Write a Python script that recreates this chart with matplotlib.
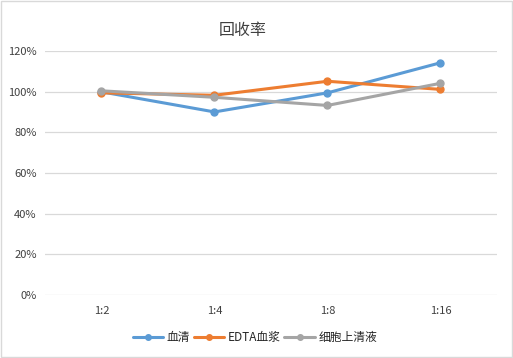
import matplotlib
matplotlib.use("Agg")
import matplotlib.pyplot as plt
from matplotlib.patches import Rectangle
from matplotlib.ticker import PercentFormatter

plt.rcParams['font.family'] = ['Noto Sans CJK SC', 'DejaVu Sans']

# data
categories = ["1:2", "1:4", "1:8", "1:16"]
serum = [100.0, 90.1, 99.5, 114.3]
edta_plasma = [99.5, 98.3, 105.2, 101.2]
cell_supernatant = [100.5, 97.3, 93.3, 104.2]
series_names = ["血清", "EDTA血浆", "细胞上清液"]
colors = ["#5B9BD5", "#ED7D31", "#A5A5A5"]

fig = plt.figure(figsize=(5.13, 3.58), dpi=100)
ax = fig.add_axes([0.0877, 0.176, 0.881, 0.681])

x = range(len(categories))
for vals, name, c in zip([serum, edta_plasma, cell_supernatant], series_names, colors):
    ax.plot(x, vals, color=c, lw=2.2, marker="o", ms=5, label=name,
            solid_capstyle="round")

ax.set_xlim(-0.5, len(categories) - 0.5)
ax.set_ylim(0, 120)
ax.set_yticks(range(0, 121, 20))
ax.yaxis.set_major_formatter(PercentFormatter(decimals=0))
ax.set_xticks(list(x))
ax.set_xticklabels(categories)
ax.tick_params(length=0, labelsize=8, labelcolor="#404040", pad=8)
ax.tick_params(axis="y", pad=6)
ax.grid(axis="y", color="#D9D9D9", lw=0.9)
ax.set_axisbelow(True)
for s in ax.spines.values():
    s.set_visible(False)

fig.text(0.473, 0.916, "回收率", ha="center", va="center", fontsize=11.5, color="#404040")

leg = fig.legend(loc="center", bbox_to_anchor=(0.497, 0.058), ncol=3, frameon=False,
                 fontsize=8.5, handlelength=2.6, columnspacing=0.3, handletextpad=0.3,
                 markerscale=0.8)
for t in leg.get_texts():
    t.set_color("#262626")

fig.patches.append(Rectangle((0.002, 0.003), 0.996, 0.994, transform=fig.transFigure,
                             fill=False, edgecolor="#D9D9D9", lw=1))

fig.savefig("out.png", dpi=100)
